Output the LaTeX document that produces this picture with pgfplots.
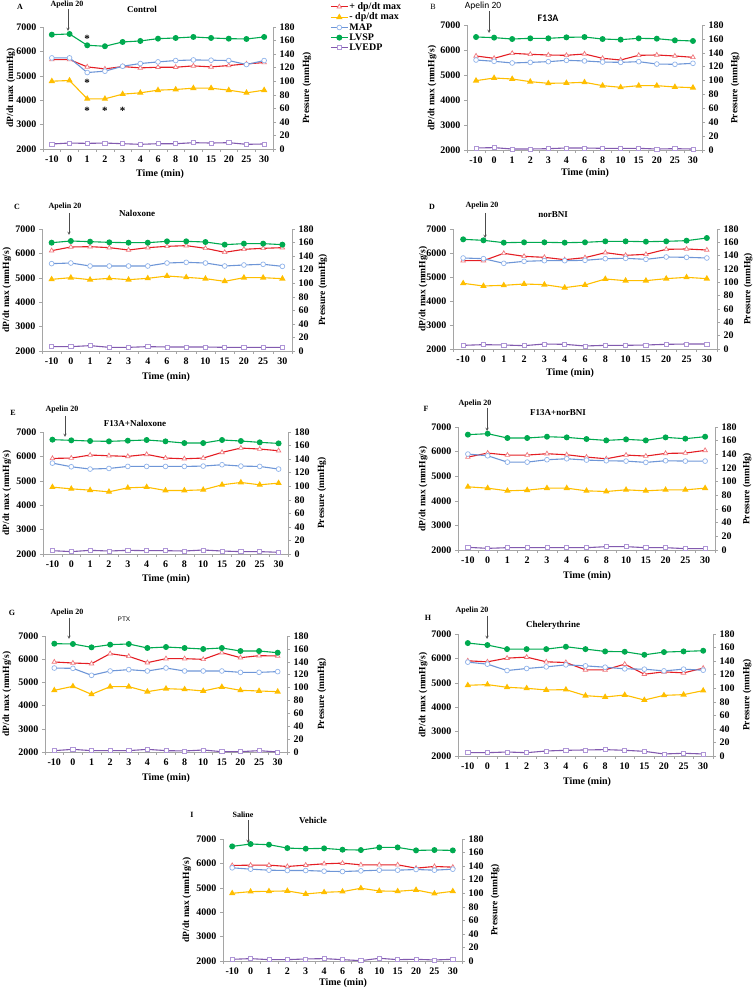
\documentclass[border=0pt]{standalone}
\usepackage{pgfplots}
\pgfplotsset{compat=1.18}
\usepackage{pgfplotstable}
\usepackage{fontspec}
\setmainfont{Liberation Serif}
\newfontfamily\carlito{Carlito}
\newfontfamily\arialf{Liberation Sans}

\definecolor{cpdp}{RGB}{228,30,36}
\definecolor{cpdpm}{RGB}{240,120,125}
\definecolor{cmdp}{RGB}{255,190,0}
\definecolor{cmap}{RGB}{110,150,215}
\definecolor{cmapm}{RGB}{145,180,235}
\definecolor{clvsp}{RGB}{0,170,80}
\definecolor{clvedp}{RGB}{130,90,175}
\definecolor{clvedpm}{RGB}{175,150,215}
\definecolor{caxis}{RGB}{165,165,165}

\pgfplotsset{
  spdp/.style={color=cpdp, line width=1.1pt, mark=triangle*, mark size=2.6pt, mark options={draw=cpdpm, fill=white, line width=0.7pt}},
  smdp/.style={color=cmdp, line width=1.1pt, mark=triangle*, mark size=2.6pt, mark options={draw=cmdp, fill=cmdp}},
  smap/.style={color=cmap, line width=1.1pt, mark=*, mark size=2.4pt, mark options={draw=cmapm, fill=white, line width=0.7pt}},
  slvsp/.style={color=clvsp, line width=1.1pt, mark=*, mark size=2.4pt, mark options={draw=clvsp, fill=clvsp}},
  slvedp/.style={color=clvedp, line width=1.1pt, mark=square*, mark size=2.1pt, mark options={draw=clvedpm, fill=white, line width=0.7pt}},
  common/.style={scale only axis, anchor=south west, xmin=-0.5, xmax=12.5, clip=false,
    axis line style={draw=caxis, line width=0.6pt}, tick style={draw=caxis, line width=0.5pt},
    tick align=outside, major tick length=3pt, minor tick length=3pt,
    tick label style={font=\bfseries\fontsize{10}{11}\selectfont}},
  leftax/.style={common, axis y line*=left, axis x line*=bottom, ymin=2000, ymax=7000,
    ytick={2000,3000,4000,5000,6000,7000}, yticklabels={2000,3000,4000,5000,6000,7000},
    xtick={0,1,2,3,4,5,6,7,8,9,10,11,12}, xticklabels={-10,0,1,2,3,4,6,8,10,15,20,25,30},
    minor xtick={-0.5,0.5,1.5,2.5,3.5,4.5,5.5,6.5,7.5,8.5,9.5,10.5,11.5,12.5},
    major x tick style={draw=none}},
  rightax/.style={common, axis y line*=right, axis x line=none, ymin=0, ymax=180,
    ytick={0,20,40,60,80,100,120,140,160,180}, yticklabels={0,20,40,60,80,100,120,140,160,180}},
}

\pgfplotstableread{
i pdp mdp map lvsp lvedp
0 5665 4779 134.4 168.7 7.4
1 5665 4807 134.4 169.7 8.8
2 5365 4057 112.8 153.0 8.3
3 5283 4057 114.8 151.6 8.8
4 5379 4248 122.1 157.9 7.8
5 5324 4302 126.1 159.4 6.9
6 5351 4411 128.5 162.8 7.8
7 5351 4439 130.5 163.8 7.8
8 5406 4493 131.4 165.3 9.3
9 5365 4493 131.0 163.8 8.8
10 5420 4411 130.5 162.8 9.3
11 5488 4302 124.6 162.3 6.9
12 5542 4411 130.5 165.3 7.4
}\tA
\pgfplotstableread{
i pdp mdp map lvsp lvedp
0 5760 4773 129.6 162.7 2.9
1 5667 4880 127.7 161.8 3.4
2 5867 4840 125.3 159.8 1.4
3 5827 4733 126.2 160.8 1.4
4 5800 4667 127.2 160.8 1.9
5 5787 4680 129.1 162.2 2.9
6 5840 4707 128.2 162.7 2.9
7 5667 4573 126.7 159.8 2.4
8 5600 4507 126.2 158.9 2.4
9 5787 4573 127.2 160.8 2.4
10 5800 4573 123.8 160.3 1.4
11 5760 4520 123.4 157.9 1.9
12 5707 4493 124.8 157.0 1.4
}\tB
\pgfplotstableread{
i pdp mdp map lvsp lvedp
0 6112 4937 128.9 159.8 6.4
1 6262 5005 129.8 162.3 6.4
2 6276 4923 125.4 161.3 7.9
3 6235 4978 125.4 160.3 5.4
4 6139 4923 125.4 159.8 5.4
5 6235 4978 125.4 159.8 6.4
6 6290 5074 129.8 161.8 5.9
7 6317 5019 130.8 161.8 5.9
8 6208 4964 129.8 160.8 5.9
9 6044 4855 125.4 156.9 5.4
10 6167 5005 126.9 158.4 5.4
11 6208 5005 127.9 158.4 5.4
12 6235 4964 124.9 156.9 5.4
}\tC
\pgfplotstableread{
i pdp mdp map lvsp lvedp
0 5681 4736 136.5 164.5 5.5
1 5681 4625 135.5 163.0 6.5
2 5986 4653 128.5 159.5 6.0
3 5861 4708 131.5 160.0 5.0
4 5819 4681 132.5 160.0 7.5
5 5722 4556 132.5 159.5 7.0
6 5806 4667 133.0 160.0 4.5
7 6014 4917 135.5 161.5 5.5
8 5903 4847 136.0 161.5 5.5
9 5944 4847 134.5 161.0 6.0
10 6153 4931 138.0 161.5 7.0
11 6167 4986 137.5 162.5 7.5
12 6125 4931 136.5 166.5 7.5
}\tD
\pgfplotstableread{
i pdp mdp map lvsp lvedp
0 5918 4740 134.1 168.7 4.9
1 5932 4671 128.7 167.7 3.5
2 6055 4616 125.3 166.7 5.4
3 6027 4548 126.2 166.2 4.4
4 6000 4712 129.2 167.2 5.4
5 6082 4740 129.2 168.2 4.9
6 5932 4603 129.2 166.2 4.9
7 5904 4603 129.2 163.7 4.4
8 5932 4630 129.7 163.7 5.9
9 6164 4836 131.7 168.2 4.4
10 6342 4932 129.7 166.7 3.5
11 6301 4836 129.2 164.7 3.5
12 6233 4904 125.3 163.2 2.5
}\tE
\pgfplotstableread{
i pdp mdp map lvsp lvedp
0 5777 4568 140.4 168.8 3.9
1 5940 4514 137.9 170.2 2.4
2 5859 4405 128.6 163.9 3.4
3 5859 4432 128.6 163.9 3.4
4 5913 4514 132.1 165.8 3.4
5 5872 4514 133.5 164.8 3.4
6 5777 4405 131.6 162.4 3.4
7 5709 4378 130.6 160.4 4.9
8 5859 4446 130.1 161.9 4.9
9 5818 4405 128.2 160.4 3.4
10 5927 4446 130.6 164.8 3.4
11 5940 4446 130.1 162.9 2.0
12 6049 4514 130.1 165.8 2.0
}\tF
\pgfplotstableread{
i pdp mdp map lvsp lvedp
0 5879 4658 130.3 168.1 2.1
1 5836 4830 129.8 167.6 4.1
2 5807 4486 119.0 162.4 2.1
3 6239 4816 125.7 166.6 2.1
4 6124 4816 127.8 167.6 2.1
5 5851 4601 125.7 161.4 4.1
6 6023 4730 130.3 162.9 2.1
7 6023 4701 125.7 161.4 1.6
8 5994 4630 125.7 159.8 3.1
9 6282 4802 125.7 161.4 0.5
10 6066 4658 123.6 156.7 0.5
11 6152 4630 123.6 156.7 2.1
12 6138 4601 124.7 154.1 0.0
}\tG
\pgfplotstableread{
i pdp mdp map lvsp lvedp
0 5901 4898 138.5 166.6 4.9
1 5860 4926 135.5 163.7 4.9
2 6011 4816 126.1 157.7 5.9
3 6052 4775 129.1 157.7 4.9
4 5860 4706 131.5 157.7 7.4
5 5832 4720 134.5 161.2 8.4
6 5530 4473 133.0 157.7 8.9
7 5530 4418 131.0 154.3 9.4
8 5764 4500 128.6 153.8 8.4
9 5352 4294 128.1 149.3 6.9
10 5448 4486 125.6 153.3 3.0
11 5407 4514 128.1 154.3 4.0
12 5599 4679 126.6 155.3 3.0
}\tH
\pgfplotstableread{
i pdp mdp map lvsp lvedp
0 5915 4775 137.5 169.1 2.5
1 5929 4843 135.5 172.6 3.5
2 5929 4857 134.0 171.6 2.0
3 5874 4871 133.5 166.6 2.0
4 5929 4747 133.5 165.7 3.0
5 5984 4816 132.5 166.2 3.5
6 6011 4843 132.0 164.2 2.0
7 5942 4981 133.0 163.7 0.5
8 5942 4871 134.0 167.6 4.0
9 5942 4857 134.0 167.6 2.0
10 5805 4912 135.0 163.2 2.5
11 5874 4761 134.0 163.7 1.5
12 5846 4857 135.5 163.2 2.5
}\tI

\newcommand{\panel}[5]{%
\begin{axis}[leftax, at={(#1pt,#2pt)}, width=#3pt, height=#4pt]
\addplot[spdp] table[x=i,y=pdp]{#5};
\addplot[smdp] table[x=i,y=mdp]{#5};
\end{axis}
\begin{axis}[rightax, at={(#1pt,#2pt)}, width=#3pt, height=#4pt]
\addplot[smap] table[x=i,y=map]{#5};
\addplot[slvsp] table[x=i,y=lvsp]{#5};
\addplot[slvedp] table[x=i,y=lvedp]{#5};
\end{axis}}

\newcommand{\ylab}[3]{\node[rotate=90, font=\bfseries\fontsize{9.5}{10}\selectfont] at (#1pt,#2pt) {#3};}
\newcommand{\tlab}[2]{\node[font=\bfseries\fontsize{10}{11}\selectfont] at (#1pt,#2pt) {Time (min)};}
\newcommand{\ttl}[3]{\node[font=\bfseries\fontsize{9}{10}\selectfont] at (#1pt,#2pt) {#3};}
\newcommand{\letter}[3]{\node[font=\bfseries\fontsize{8}{9}\selectfont] at (#1pt,#2pt) {#3};}
\newcommand{\arr}[3]{\draw[->, >=stealth, gray!60!black, line width=0.5pt] (#1pt,#2pt) -- (#1pt,#3pt);}

\begin{document}
\begin{tikzpicture}
\path[use as bounding box] (0,0) rectangle (755pt,989pt);

% ---------- A ----------
\begin{axis}[leftax, at={(43pt,840pt)}, width=230pt, height=122pt]
\addplot[spdp] table[x=i,y=pdp]{\tA};
\addplot[smdp] table[x=i,y=mdp]{\tA};
\node[font=\bfseries\fontsize{11}{11}\selectfont, yshift=-2pt] at (axis cs:2,6591) {*};
\node[font=\bfseries\fontsize{11}{11}\selectfont, yshift=-2pt] at (axis cs:2,4779) {*};
\node[font=\bfseries\fontsize{11}{11}\selectfont, yshift=-2pt] at (axis cs:2,3662) {*};
\node[font=\bfseries\fontsize{11}{11}\selectfont, yshift=-2pt] at (axis cs:3,3662) {*};
\node[font=\bfseries\fontsize{11}{11}\selectfont, yshift=-2pt] at (axis cs:4,3662) {*};
\end{axis}
\begin{axis}[rightax, at={(43pt,840pt)}, width=230pt, height=122pt,
  legend style={at={(1.248,1.21)}, anchor=north west, draw=none, fill=none,
    font=\bfseries\fontsize{10}{11}\selectfont, inner sep=0pt, row sep=0pt,
    nodes={inner sep=1pt}, cells={anchor=west}}]
\addlegendimage{spdp}
\addlegendimage{smdp}
\addplot[smap] table[x=i,y=map]{\tA};
\addplot[slvsp] table[x=i,y=lvsp]{\tA};
\addplot[slvedp] table[x=i,y=lvedp]{\tA};
\legend{+ dp/dt max, - dp/dt max, MAP, LVSP, LVEDP}
\end{axis}
\letter{20}{982}{A}
\letter{67}{984}{Apelin 20}
\arr{68}{980}{958}
\ttl{142}{980}{Control}
\ylab{11}{901}{dP/dt max (mmHg)}
\ylab{307}{901}{Pressure (mmHg)}
\tlab{160}{815}

% ---------- B ----------
\panel{467}{839}{235}{125}{\tB}
\node[font=\fontsize{8}{9}\selectfont] at (433pt,982pt) {B};
\node[font=\carlito\fontsize{9.5}{10}\selectfont] at (483pt,983pt) {Apelin 20};
\arr{489}{978}{956}
\node[font=\carlito\bfseries\fontsize{10}{11}\selectfont] at (548pt,971pt) {F13A};
\ylab{432}{901}{dP/dt max (mmHg/s)}
\ylab{735}{901}{Pressure (mmHg)}
\tlab{585}{816}

% ---------- C ----------
\panel{42}{638}{250}{122}{\tC}
\letter{17}{782}{C}
\letter{65}{782}{Apelin 20}
\arr{69}{776}{754}
\ttl{137}{776}{Naloxone}
\ylab{7}{699}{dP/dt max (mmHg/s)}
\ylab{323}{699}{Pressure (mmHg)}
\tlab{166}{612}

% ---------- D ----------
\panel{453}{640}{264}{120}{\tD}
\letter{432}{782}{D}
\letter{482}{783}{Apelin 20}
\arr{485}{776}{751}
\ttl{553}{774}{norBNI}
\ylab{423}{700}{dP/dt max (mmHg/s)}
\ylab{748}{700}{Pressure (mmHg)}
\tlab{570}{616}

% ---------- E ----------
\panel{43}{435}{245}{122}{\tE}
\letter{13}{576}{E}
\letter{62}{579}{Apelin 20}
\arr{65}{573}{552}
\ttl{135}{566}{F13A+Naloxone}
\ylab{7}{496}{dP/dt max (mmHg/s)}
\ylab{322}{496}{Pressure (mmHg)}
\tlab{166}{410}

% ---------- F ----------
\panel{458}{439}{257}{123}{\tF}
\letter{426}{580}{F}
\letter{475}{585}{Apelin 20}
\arr{487}{581}{558}
\ttl{558}{576}{F13A+norBNI}
\ylab{423}{500}{dP/dt max (mmHg/s)}
\ylab{747}{500}{Pressure (mmHg)}
\tlab{587}{413}

% ---------- G ----------
\panel{45}{237}{242}{116}{\tG}
\letter{12}{376}{G}
\letter{67}{376}{Apelin 20}
\arr{69}{371}{350}
\node[font=\arialf\fontsize{6.5}{7}\selectfont] at (124pt,370pt) {PTX};
\ylab{7}{295}{dP/dt max (mmHg/s)}
\ylab{322}{295}{Pressure (mmHg)}
\tlab{166}{211}

% ---------- H ----------
\panel{458}{233}{255}{122}{\tH}
\letter{428}{371}{H}
\letter{472}{378}{Apelin 20}
\arr{487}{373}{350}
\ttl{553}{364}{Chelerythrine}
\ylab{423}{294}{dP/dt max (mmHg/s)}
\ylab{747}{294}{Pressure (mmHg)}
\tlab{587}{207}

% ---------- I ----------
\panel{223}{28}{239}{122}{\tI}
\letter{192}{174}{I}
\letter{243}{174}{Saline}
\arr{248}{169}{146}
\ttl{313}{169}{Vehicle}
\ylab{187}{89}{dP/dt max (mmHg/s)}
\ylab{495}{89}{Pressure (mmHg)}
\tlab{343}{6}
\end{tikzpicture}
\end{document}
